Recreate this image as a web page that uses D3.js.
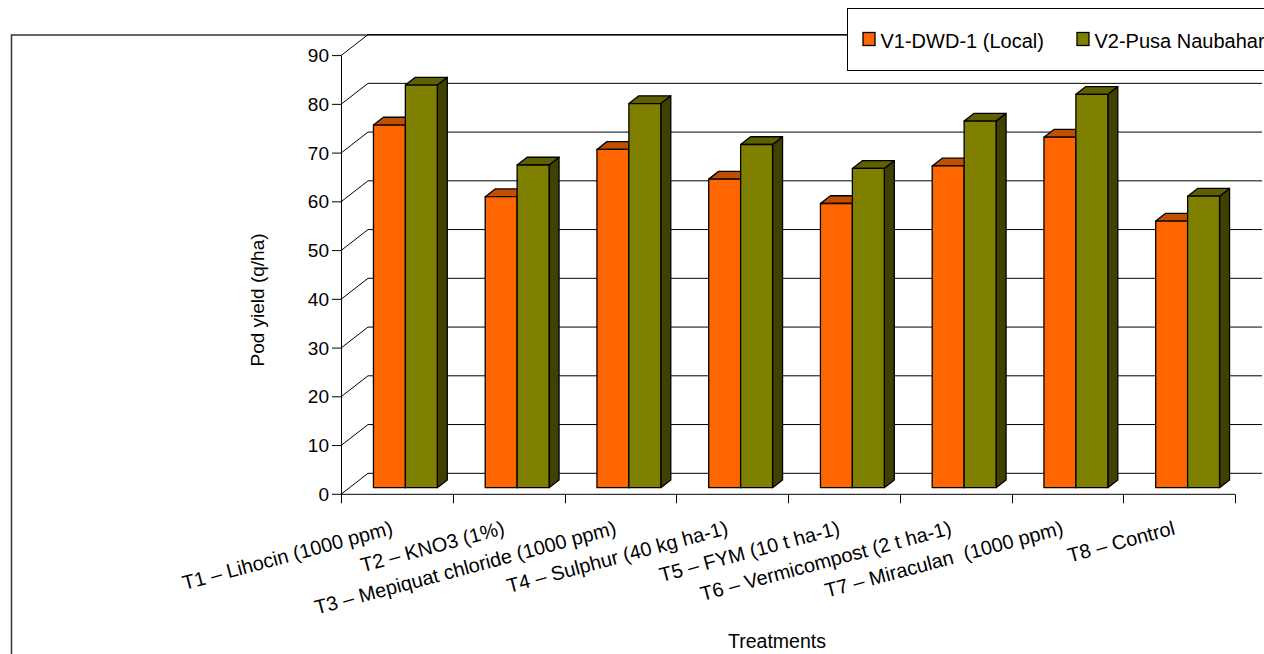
<!DOCTYPE html>
<html>
  <head>
    <meta charset="utf-8">
    <style>
      body { margin: 0; background: #fff; }
      svg { display: block; font-family: 'Liberation Sans', Arial, sans-serif; }
    </style>
  </head>
  <body>
    <script src="https://d3js.org/d3.v7.min.js"></script>
    <script>
      const treatments = [
        'T1 – Lihocin (1000 ppm)',
        'T2 – KNO3 (1%)',
        'T3 – Mepiquat chloride (1000 ppm)',
        'T4 – Sulphur (40 kg ha-1)',
        'T5 – FYM (10 t ha-1)',
        'T6 – Vermicompost (2 t ha-1)',
        'T7 – Miraculan  (1000 ppm)',
        'T8 – Control'
      ];
      const seriesNames = ['V1-DWD-1 (Local)', 'V2-Pusa Naubahar'];
      const v1Values = [74.4, 59.7, 69.4, 63.3, 58.3, 66.0, 71.9, 54.7];
      const v2Values = [82.6, 66.2, 78.8, 70.4, 65.5, 75.2, 80.7, 59.8];
      const yTicks = [0, 10, 20, 30, 40, 50, 60, 70, 80, 90];

      const width = 1264;
      const height = 654;

      // depth of the 3d wall (screen offset of the back plane)
      const depthX = 27;
      const depthY = -21;
      const barFront = 0.315;
      const barBack = 0.685;

      const faces = {
        [seriesNames[0]]: { front: '#ff6600', top: '#c04f00', side: '#803300' },
        [seriesNames[1]]: { front: '#808000', top: '#606000', side: '#404000' }
      };

      const rows = treatments.map((t, i) => ({
        treatment: t,
        values: [
          { key: seriesNames[0], value: v1Values[i] },
          { key: seriesNames[1], value: v2Values[i] }
        ]
      }));

      const svg = d3.select('body').append('svg')
        .attr('width', width)
        .attr('height', height);

      // outer chart border
      svg.append('path')
        .attr('d', `M11.5,${height}V35H${width}`)
        .attr('fill', 'none')
        .attr('stroke', '#333')
        .attr('stroke-width', 1.5);

      const x0 = d3.scaleBand()
        .domain(treatments)
        .range([341, 1235]);

      const x1 = d3.scaleBand()
        .domain(seriesNames)
        .range([0, x0.bandwidth()])
        .paddingInner(0)
        .paddingOuter(0.75);

      const yScale = d3.scaleLinear()
        .domain([0, 90])
        .range([494.3, 55.6]);

      const proj = (x, y, d) => [x + depthX * d, y + depthY * d];

      // back wall gridlines + floor
      const grid = svg.append('g')
        .attr('fill', 'none')
        .attr('stroke', '#000')
        .attr('stroke-width', 1);

      grid.selectAll('path')
        .data(yTicks)
        .join('path')
        .attr('d', d => {
          const y = yScale(d);
          const [bx, by] = proj(341, y, 1);
          const [ex] = proj(1235, y, 1);
          return `M341,${y}L${bx},${by}H${ex}`;
        });

      // front axes
      const axes = svg.append('g')
        .attr('stroke', '#000')
        .attr('stroke-width', 1)
        .attr('fill', 'none');

      axes.append('line')
        .attr('x1', 341.5).attr('x2', 341.5)
        .attr('y1', yScale(0)).attr('y2', yScale(90));

      axes.append('line')
        .attr('x1', 341).attr('x2', 1235)
        .attr('y1', yScale(0)).attr('y2', yScale(0));

      axes.selectAll('.ytick')
        .data(yTicks)
        .join('line')
        .attr('class', 'ytick')
        .attr('x1', 332).attr('x2', 341)
        .attr('y1', d => yScale(d)).attr('y2', d => yScale(d));

      const xTickPos = treatments.map(t => x0(t)).concat([x0.range()[1]]);
      axes.selectAll('.xtick')
        .data(xTickPos)
        .join('line')
        .attr('class', 'xtick')
        .attr('x1', d => Math.round(d) + 0.5).attr('x2', d => Math.round(d) + 0.5)
        .attr('y1', yScale(0)).attr('y2', yScale(0) + 9);

      svg.append('g')
        .attr('font-size', 19)
        .attr('text-anchor', 'end')
        .selectAll('text')
        .data(yTicks)
        .join('text')
        .attr('x', 329)
        .attr('y', d => yScale(d))
        .attr('dy', '0.35em')
        .text(d => d);

      // bars
      const barGroups = svg.append('g')
        .attr('stroke', '#000')
        .attr('stroke-width', 1.3)
        .attr('stroke-linejoin', 'round')
        .selectAll('g')
        .data(rows)
        .join('g');

      const bars = barGroups.selectAll('g')
        .data(d => d.values.map(v => ({ ...v, treatment: d.treatment })))
        .join('g');

      const corners = d => {
        const xl = x0(d.treatment) + x1(d.key);
        const xr = xl + x1.bandwidth();
        const yt = yScale(d.value);
        const yb = yScale(0);
        return {
          fl: proj(xl, yt, barFront), fr: proj(xr, yt, barFront),
          bl: proj(xl, yt, barBack), br: proj(xr, yt, barBack),
          frb: proj(xr, yb, barFront), brb: proj(xr, yb, barBack),
          flb: proj(xl, yb, barFront)
        };
      };

      bars.append('path')
        .attr('fill', d => faces[d.key].side)
        .attr('d', d => {
          const c = corners(d);
          return `M${c.fr}L${c.br}L${c.brb}L${c.frb}Z`;
        });

      bars.append('path')
        .attr('fill', d => faces[d.key].top)
        .attr('d', d => {
          const c = corners(d);
          return `M${c.fl}L${c.bl}L${c.br}L${c.fr}Z`;
        });

      bars.append('path')
        .attr('fill', d => faces[d.key].front)
        .attr('d', d => {
          const c = corners(d);
          return `M${c.fl}L${c.fr}L${c.frb}L${c.flb}Z`;
        });

      // category labels
      svg.append('g')
        .attr('font-size', 20)
        .attr('text-anchor', 'end')
        .attr('fill', '#000')
        .selectAll('text')
        .data(treatments)
        .join('text')
        .attr('xml:space', 'preserve')
        .attr('transform', d => `translate(${x0(d) + x0.bandwidth() / 2 - 3},534) rotate(-15)`)
        .text(d => d);

      svg.append('text')
        .attr('font-size', 19.5)
        .attr('text-anchor', 'middle')
        .attr('x', 777)
        .attr('y', 647.5)
        .text('Treatments');

      svg.append('text')
        .attr('font-size', 19)
        .attr('text-anchor', 'middle')
        .attr('transform', 'translate(264,300) rotate(-90)')
        .text('Pod yield (q/ha)');

      // legend
      const legend = svg.append('g');
      legend.append('rect')
        .attr('x', 847.5).attr('y', 8.5)
        .attr('width', 430).attr('height', 62)
        .attr('fill', '#fff')
        .attr('stroke', '#000');

      const legendX = [863, 1077];
      const legendItem = legend.selectAll('g')
        .data(seriesNames)
        .join('g')
        .attr('transform', (d, i) => `translate(${legendX[i]},32.5)`);

      legendItem.append('rect')
        .attr('width', 12)
        .attr('height', 13)
        .attr('fill', d => faces[d].front)
        .attr('stroke', '#000')
        .attr('stroke-width', 1.3);

      legendItem.append('text')
        .attr('x', 17.5)
        .attr('y', 15)
        .attr('font-size', 20)
        .text(d => d);
    </script>
  </body>
</html>
